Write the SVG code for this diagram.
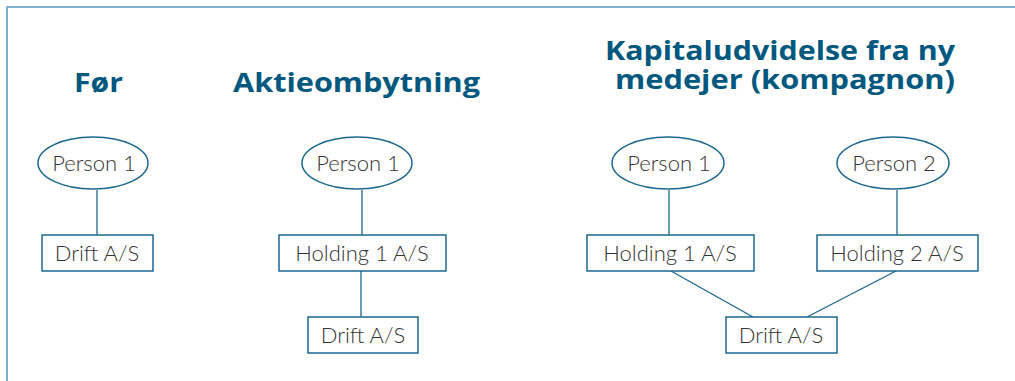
<svg xmlns="http://www.w3.org/2000/svg" width="1015" height="381" viewBox="0 0 1015 381">
<style>
.title{font-family:"Open Sans","Liberation Sans",sans-serif;font-weight:bold;font-size:27px;fill:#00587f;text-anchor:start}
.lbl{font-family:Lato,"Liberation Sans",sans-serif;font-weight:300;font-size:22px;fill:#333;text-anchor:middle}
.shape{fill:#fff;stroke:#1c6790;stroke-width:1.5}
.conn{stroke:#1c6790;stroke-width:1.3;fill:none}
</style>
<rect x="7" y="7" width="1020" height="390" fill="#fff" stroke="#7fb0cf" stroke-width="2"/>
<g id="titles">
<text class="title" x="74" y="92" textLength="49" lengthAdjust="spacingAndGlyphs">Før</text>
<text class="title" x="233" y="92" textLength="247" lengthAdjust="spacingAndGlyphs">Aktieombytning</text>
<text class="title" x="605" y="60" textLength="350" lengthAdjust="spacingAndGlyphs">Kapitaludvidelse fra ny</text>
<text class="title" x="615" y="89" textLength="340" lengthAdjust="spacingAndGlyphs">medejer (kompagnon)</text>
</g>
<g id="connectors">
<line class="conn" x1="97" y1="190" x2="97" y2="235"/>
<line class="conn" x1="362" y1="190" x2="362" y2="235"/>
<line class="conn" x1="361" y1="271" x2="361" y2="317"/>
<line class="conn" x1="669" y1="190" x2="669" y2="235"/>
<line class="conn" x1="897" y1="190" x2="897" y2="235"/>
<line class="conn" x1="671" y1="271" x2="753" y2="317"/>
<line class="conn" x1="896" y1="271" x2="807" y2="317"/>
</g>
<g id="p1a"><ellipse class="shape" cx="93" cy="163" rx="55" ry="26"/><text class="lbl" x="94" y="171">Person 1</text></g>
<g id="d1"><rect class="shape" x="42" y="235" width="111" height="36"/><text class="lbl" x="97" y="261">Drift A/S</text></g>
<g id="p1b"><ellipse class="shape" cx="357" cy="163" rx="55" ry="26"/><text class="lbl" x="358" y="171">Person 1</text></g>
<g id="h1b"><rect class="shape" x="279" y="235" width="167" height="36"/><text class="lbl" x="362" y="261">Holding 1 A/S</text></g>
<g id="d2"><rect class="shape" x="308" y="317" width="110" height="36"/><text class="lbl" x="363" y="343">Drift A/S</text></g>
<g id="p1c"><ellipse class="shape" cx="668" cy="163" rx="56" ry="26"/><text class="lbl" x="669" y="171">Person 1</text></g>
<g id="p2c"><ellipse class="shape" cx="893" cy="163" rx="56" ry="26"/><text class="lbl" x="894" y="171">Person 2</text></g>
<g id="h1c"><rect class="shape" x="587" y="235" width="167" height="36"/><text class="lbl" x="670" y="261">Holding 1 A/S</text></g>
<g id="h2c"><rect class="shape" x="817" y="235" width="161" height="36"/><text class="lbl" x="897" y="261">Holding 2 A/S</text></g>
<g id="d3"><rect class="shape" x="726" y="317" width="111" height="36"/><text class="lbl" x="781" y="343">Drift A/S</text></g>
</svg>
